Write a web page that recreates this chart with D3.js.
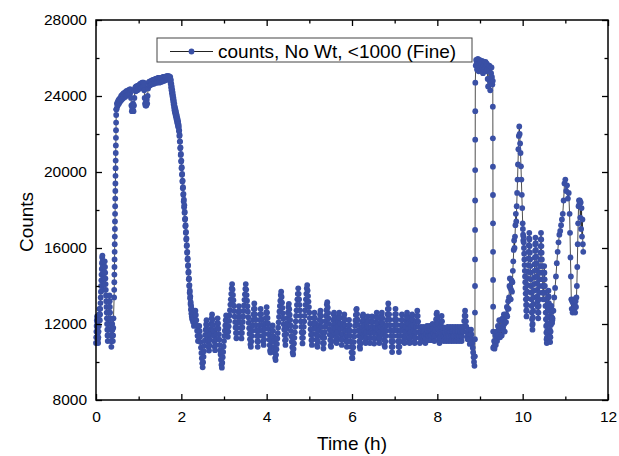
<!DOCTYPE html>
<html><head><meta charset="utf-8">
<script src="https://cdn.jsdelivr.net/npm/d3@7"></script>
<style>
body{margin:0;background:#fff}
svg{display:block}
text{font-family:"Liberation Sans",Arial,Helvetica,sans-serif;fill:#000}
</style>
</head><body>
<svg id="chart" width="619" height="456"></svg>
<script>
// ---------- data ----------
const xTicksMajor = [0, 2, 4, 6, 8, 10, 12];
const xTicksMinor = [1, 3, 5, 7, 9, 11];
const yTicksMajor = [8000, 12000, 16000, 20000, 24000, 28000];
const yTicksMinor = [10000, 14000, 18000, 22000, 26000];
const seriesName = "counts, No Wt, <1000 (Fine)";
const xTitle = "Time (h)";
const yTitle = "Counts";

// sampling start time (h) and step (h) of each recorded stretch
const segStarts = [0, 0.425, 0.48, 1.74, 2.32, 8.881, 8.90, 9.301, 9.32, 10.00, 10.72, 11.10];
const segSteps  = [0.005, 0.002, 0.01, 0.005, 0.01, 0.001, 0.01, 0.001, 0.01, 0.005, 0.02, 0.01];

const countsStart = [
  11000,11300,11600,11900,12200,12400,12100,11800,11500,11200,
  11000,11300,11600,11900,12200,12500,12800,12500,12200,12500,
  12800,13100,13400,13700,14000,14300,14600,14900,15200,15500,
  15600,15300,15000,14700,14400,14100,13800,14100,14400,14700,
  15000,15300,15000,14700,14400,14100,13800,13500,13200,12900,
  12600,12300,12000,11700,11400,11100,11400,11700,12000,12300,
  12600,12900,13200,13500,13200,12900,12600,12300,12000,11700,
  11400,11100,10800,11100,11400,11700,12000,11700,11400,11100,
  11400,11800,12300];
const countsRise1 = [13400,13800,14200,14600,15000,15400,15800,16200,16600,17000,
  17400,17800,18200,18600,19000,19400,19800,20200,20600,21000,
  21400,21800,22200,22600,23000,23300];
const countsPlateau1 = [
  23300,23600,23450,23700,23550,23800,23600,23850,23700,23900,
  23750,24000,23800,24050,23850,24100,23900,24150,23950,24150,
  23950,24200,24000,24250,24050,24250,24050,24300,24100,24300,
  24100,24350,24150,24350,23900,23500,23200,23400,23300,23600,
  23200,23500,23900,24300,24450,24250,24500,24300,24500,24300,
  24550,24350,24550,24400,24600,24400,24650,24450,24650,24450,
  24700,24500,24700,24500,24700,24300,23900,23600,23500,23700,
  23500,23800,23600,24000,24400,24700,24550,24750,24550,24750,
  24600,24800,24600,24800,24650,24850,24650,24850,24650,24850,
  24700,24900,24700,24900,24700,24900,24750,24950,24750,24950,
  24700,24900,24750,24950,24750,24950,24750,24950,24800,25000,
  24800,25000,24800,25000,24850,25000,24850,25050,24850,25050,
  24900,25050,24900,25050,24950];
const countsFall1 = [
  25000,24800,24650,24850,24450,24650,24300,24500,24150,24350,
  24000,24200,23850,24050,23700,23900,23550,23750,23400,23600,
  23250,23450,23150,23350,23050,23250,22950,23150,22850,23050,
  22750,22950,22650,22850,22550,22750,22450,22650,22350,22500,
  22400,22150,22200,21900,21950,21600,21600,21250,21300,20900,
  20950,20550,20600,20200,20250,19850,19900,19500,19550,19150,
  19200,18800,18850,18450,18550,18150,18250,17850,17900,17500,
  17550,17150,17200,16800,16850,16450,16500,16100,16150,15750,
  15800,15400,15450,15050,15100,14700,14750,14350,14400,14000,
  14050,13650,13750,13350,13450,13050,13150,12750,12950,12550,
  12800,12400,12600,12250,12650,12300,12450,12100,12500,12150,
  12300,11900,12200];
const countsMiddle = [
  12450,12700,12480,12200,11930,11650,11380,11100,11360,11640,
  11900,11620,11330,11050,10760,10480,10200,9930,9720,9990,
  10280,10560,10850,11130,11420,11700,11980,12200,11930,11650,
  11360,11070,10790,10600,10880,11170,11450,11740,12020,12300,
  12500,12230,11950,11660,11380,11090,10810,10620,10900,11190,
  11470,11760,12040,12300,12030,11750,11460,11180,10890,10610,
  10400,10120,9850,9700,9960,10250,10530,10820,11100,11380,
  11650,11920,12200,12450,12180,11900,11610,11330,11600,11880,
  12160,12450,12730,13020,13300,13590,13870,14100,13820,13530,
  13250,12960,12680,12390,12100,11820,11530,11250,11520,11800,
  12080,12370,12650,12940,12660,12370,12090,11800,11520,11240,
  11530,11820,12110,12400,12690,12980,13270,13560,13850,14100,
  13810,13520,13230,12940,12650,12360,12070,11780,11490,11200,
  10920,10800,11080,11370,11650,11940,12220,12510,12790,13080,
  12800,12510,12230,11940,11660,11370,11090,10800,11080,11370,
  11650,11940,12220,12510,12790,12520,12240,11950,11670,11380,
  11100,10900,11180,11470,11750,12040,12320,12610,12890,12600,
  12320,12030,11750,11460,11180,10890,10610,10500,10780,11070,
  11350,11640,11920,11640,11350,11070,10780,10500,10220,10100,
  10380,10670,10950,11240,11520,11810,12090,12380,12660,12950,
  13230,13520,13700,13420,13130,12850,12560,12280,11990,11710,
  11420,11140,10900,11180,11470,11750,12040,12320,12610,12890,
  13060,12780,12490,12210,11920,11640,11350,11070,10780,10500,
  10400,10690,10980,11270,11560,11850,12140,12430,12720,13010,
  13300,13590,13880,13590,13300,13010,12720,12430,12140,11850,
  11560,11270,10980,11270,11560,11850,12140,12430,12720,13010,
  13300,13590,13880,14050,13760,13470,13180,12890,12600,12310,
  12020,11730,11440,11150,10900,11180,11470,11750,12040,12320,
  12600,12320,12030,11750,11460,11180,10890,10800,11080,11370,
  11650,11940,12220,12510,12700,12420,12130,11850,11560,11280,
  10990,10710,10990,11280,11570,11860,12150,12440,12730,13020,
  13150,12870,12580,12300,12010,11730,11440,11160,10870,10800,
  11080,11370,11650,11940,12220,12510,12600,12320,12030,11750,
  11460,11180,11000,11280,11570,11850,12140,12420,12600,12320,
  12030,11750,11460,11180,10900,11180,11470,11750,12040,12320,
  12500,12220,11930,11650,11360,11080,10800,11080,11370,11650,
  11940,12220,11940,11650,11370,11080,10800,10510,10230,10200,
  10480,10770,11050,11340,11620,11910,12190,12480,12760,12800,
  12520,12230,11950,11660,11380,11090,10810,10700,10980,11270,
  11550,11840,12120,12410,12500,12220,11930,11650,11360,11080,
  11000,11280,11570,11850,12140,12400,12120,11830,11550,11260,
  11000,11280,11570,11850,12140,12400,12110,11830,11540,11260,
  10970,11250,11540,11820,12110,12390,12600,12320,12030,11750,
  11460,11180,11000,11280,11570,11850,12140,12420,12600,12310,
  12030,11740,11460,11170,10890,10800,11080,11370,11650,11940,
  12220,12510,12790,13080,12800,12510,12230,11940,11660,11370,
  11090,10800,10520,10800,11090,11370,11660,11940,12230,12510,
  12800,12520,12230,11950,11660,11380,11090,10810,10520,10800,
  11080,11370,11650,11940,12220,12500,12220,11930,11650,11360,
  11080,11000,11280,11570,11850,12140,12420,12600,12320,12030,
  11750,11460,11180,11000,11280,11570,11850,12140,12420,12500,
  12220,11930,11650,11360,11080,11000,11280,11570,11850,12140,
  12420,12700,12420,12130,11850,11560,11280,11000,11280,11570,
  11850,11600,11350,11100,11350,11600,11850,11600,11350,11100,
  11000,11250,11500,11750,11900,11650,11400,11150,11400,11650,
  11900,11650,11400,11150,11400,11650,11900,12000,11750,11500,
  11250,11100,11380,11670,11950,12240,12520,12600,12320,12030,
  11750,11460,11180,11000,11280,11570,11850,12140,12420,12140,
  11850,11600,11350,11100,11350,11600,11800,11550,11300,11100,
  11350,11600,11850,11600,11350,11100,11350,11600,11850,11600,
  11350,11100,11350,11600,11850,11600,11350,11100,11350,11600,
  11850,11600,11350,11100,11350,11600,11850,11600,11350,11100,
  11350,11600,11850,11600,11350,11100,11350,11600,11850,11600,
  11880,12160,12440,12700,12420,12140,11860,11580,11300,11200,
  11450,11700,11450,11200,10950,11200,11450,11700,11450,11200,
  11000,10750,10500,10250,10000,9800,10300];
const countsRise2 = [11200,12600,14000,15400,16950,18500,20100,21700,23200,24700];
const countsPlateau2 = [
  25600,25900,25700,25400,25800,25950,25600,25300,25700,25900,
  25500,25800,25600,25300,25700,25850,25500,25200,25600,25800,
  25400,25700,25500,25800,25600,25300,25700,25400,24900,24500,
  24900,25400,25600,24800,24300,24700,25200,25500,25000,24600,
  24800];
const countsFall2 = [23440,21770,20280,18790,17300,15800,14320,12910,11600,10740];
const countsLateA = [
  10800,11100,10700,11000,11400,10900,11200,11600,11100,11500,
  11900,11400,11800,12200,11700,11300,11700,12200,11800,11400,
  11900,12300,11800,12200,12500,12000,11600,12100,12500,12100,
  12500,12900,12400,12800,13200,12800,13400,14000,14400,13900,
  13300,13800,14300,13700,14200,14800,15300,15900,16400,16000,
  16600,17200,17800,17400,18200,18900,19600,20400,21200,21900,
  22400,22000,21500,21000,20300,19600,18800,18100];
const countsLateB = [
  17300,17000,16700,16400,16600,16300,16000,15700,15400,15100,
  14800,14500,14200,13900,13600,13300,13000,12700,12400,12700,
  13000,13350,13700,14050,14400,14750,15100,15450,15800,16150,
  16500,16800,16450,16100,15750,15400,15050,14700,14350,14000,
  13650,13300,12950,12600,12250,11950,11700,12000,12350,12700,
  13050,13400,13750,14100,14450,14800,15150,15500,15850,16200,
  16550,16250,15900,15550,15200,14850,14500,14150,13800,13450,
  13200,12900,12600,12300,12600,12950,13300,13650,14000,14350,
  14700,15050,15400,15750,16100,16450,16800,16450,16100,15750,
  15400,15050,14700,14350,14000,13650,13300,13650,14000,14350,
  14700,15050,14700,14350,14000,13650,13300,12950,12600,12250,
  11900,11550,11200,11000,11300,11650,12000,12350,12700,13050,
  13400,13750,13450,13100,12750,12400,12050,11700,11350,11050,
  11300,11600,11950,12300,12650,12950,12650,12350,12050,12200,
  12300];
const countsLateC = [12700,13400,13900,14500,15200,15800,16300,16700,16900,17200,
  17500,17800,18500,19400,19600,19000,19300,18600,18900];
const countsEnd = [17800,16800,15500,14500,13300,12800,13200,12600,13100,12700,
  13300,12800,13000,12600,13200,12900,13400,14000,15000,16200,
  17300,18200,18500,18300,18500,17600,18400,17000,18100,16600,
  17500,16200,15800];

const segCounts = [countsStart, countsRise1, countsPlateau1, countsFall1, countsMiddle,
  countsRise2, countsPlateau2, countsFall2, countsLateA, countsLateB, countsLateC, countsEnd];

const points = [];
segCounts.forEach((arr, s) => {
  arr.forEach((c, i) => points.push({t: segStarts[s] + i * segSteps[s], c: c}));
});

// ---------- chart ----------
const m = {left: 96, right: 608, top: 20, bottom: 400};
const blue = "#3A50A5";
const svg = d3.select("#chart");

const x = d3.scaleLinear().domain([0, 12]).range([m.left, m.right]);
const y = d3.scaleLinear().domain([8000, 28000]).range([m.bottom, m.top]);

// series line + markers
svg.append("path")
  .datum(points)
  .attr("fill", "none")
  .attr("stroke", "#222")
  .attr("stroke-width", 0.8)
  .attr("d", d3.line().x(d => x(d.t)).y(d => y(d.c)));

svg.append("g").selectAll("circle")
  .data(points)
  .join("circle")
  .attr("cx", d => x(d.t))
  .attr("cy", d => y(d.c))
  .attr("r", 2.9)
  .attr("fill", blue);

// axes
function styleAxis(g, fontSize) {
  g.select(".domain").remove();
  g.selectAll(".tick line").attr("stroke", "#000").attr("stroke-width", 1.3);
  g.selectAll("text").attr("font-size", fontSize)
    .attr("font-family", '"Liberation Sans", Arial, sans-serif').attr("fill", "#000");
}
const fmt = d3.format("d");

svg.append("g").attr("transform", `translate(0,${m.bottom})`)
  .call(d3.axisBottom(x).tickValues(xTicksMajor).tickSize(-6).tickPadding(11).tickFormat(fmt))
  .call(g => styleAxis(g, 15.5));
svg.append("g").attr("transform", `translate(0,${m.bottom})`)
  .call(d3.axisBottom(x).tickValues(xTicksMinor).tickSize(-3.5).tickFormat(""))
  .call(g => styleAxis(g, 15.5));
svg.append("g").attr("transform", `translate(0,${m.top})`)
  .call(d3.axisTop(x).tickValues(xTicksMajor).tickSize(-6).tickFormat(""))
  .call(g => styleAxis(g, 15.5));
svg.append("g").attr("transform", `translate(0,${m.top})`)
  .call(d3.axisTop(x).tickValues(xTicksMinor).tickSize(-3.5).tickFormat(""))
  .call(g => styleAxis(g, 15.5));

svg.append("g").attr("transform", `translate(${m.left},0)`)
  .call(d3.axisLeft(y).tickValues(yTicksMajor).tickSize(-6).tickPadding(9).tickFormat(fmt))
  .call(g => styleAxis(g, 15.5));
svg.append("g").attr("transform", `translate(${m.left},0)`)
  .call(d3.axisLeft(y).tickValues(yTicksMinor).tickSize(-3.5).tickFormat(""))
  .call(g => styleAxis(g, 15.5));
svg.append("g").attr("transform", `translate(${m.right},0)`)
  .call(d3.axisRight(y).tickValues(yTicksMajor).tickSize(-6).tickFormat(""))
  .call(g => styleAxis(g, 15.5));
svg.append("g").attr("transform", `translate(${m.right},0)`)
  .call(d3.axisRight(y).tickValues(yTicksMinor).tickSize(-3.5).tickFormat(""))
  .call(g => styleAxis(g, 15.5));

// frame
svg.append("rect")
  .attr("x", m.left).attr("y", m.top)
  .attr("width", m.right - m.left).attr("height", m.bottom - m.top)
  .attr("fill", "none").attr("stroke", "#000").attr("stroke-width", 1.5);

// axis titles
svg.append("text")
  .attr("x", (m.left + m.right) / 2).attr("y", 450)
  .attr("text-anchor", "middle").attr("font-size", 19)
  .text(xTitle);
svg.append("text")
  .attr("transform", "translate(33,222) rotate(-90)")
  .attr("text-anchor", "middle").attr("font-size", 19)
  .text(yTitle);

// legend
const lg = svg.append("g");
lg.append("rect").attr("x", 157).attr("y", 38).attr("width", 315).attr("height", 24)
  .attr("fill", "#fff").attr("stroke", "#444").attr("stroke-width", 1);
lg.append("line").attr("x1", 170).attr("x2", 213).attr("y1", 51.5).attr("y2", 51.5)
  .attr("stroke", "#222").attr("stroke-width", 1);
lg.append("circle").attr("cx", 191.5).attr("cy", 51.5).attr("r", 2.9).attr("fill", blue);
lg.append("text").attr("x", 218).attr("y", 58).attr("font-size", 19).text(seriesName);
</script>
</body></html>
